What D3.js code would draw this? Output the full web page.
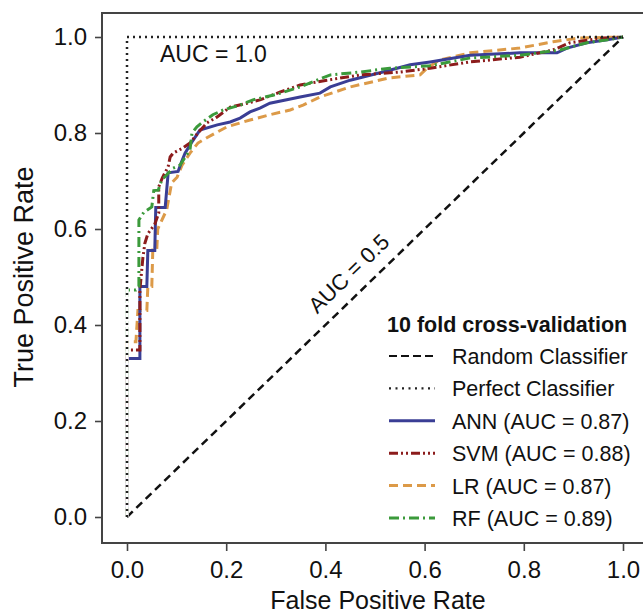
<!DOCTYPE html>
<html><head><meta charset="utf-8">
<script src="https://cdn.jsdelivr.net/npm/d3@7"></script>
<style>body{margin:0;background:#fff}svg{display:block}text{font-family:"Liberation Sans",Arial,Helvetica,sans-serif;fill:#111}</style>
</head><body>
<svg id="c" width="643" height="615"></svg>
<script>
const xTicks = [0, 0.2, 0.4, 0.6, 0.8, 1.0];
const yTicks = [0, 0.2, 0.4, 0.6, 0.8, 1.0];
const annFpr = [0,0,0.026,0.026,0.04,0.042,0.056,0.058,0.077,0.083,0.103,0.11,0.117,0.13,0.147,0.182,0.208,0.228,0.248,0.268,0.288,0.349,0.389,0.41,0.45,0.516,0.571,0.611,0.692,0.792,0.867,0.887,0.927,0.968,1];
const annTpr = [0,0.33,0.33,0.48,0.48,0.555,0.555,0.645,0.645,0.717,0.72,0.74,0.758,0.78,0.806,0.817,0.823,0.831,0.844,0.852,0.862,0.875,0.883,0.896,0.91,0.927,0.942,0.948,0.962,0.967,0.967,0.977,0.988,0.994,1];
const svmFpr = [0,0,0.026,0.026,0.032,0.036,0.042,0.056,0.064,0.064,0.071,0.083,0.087,0.093,0.113,0.127,0.143,0.161,0.181,0.208,0.242,0.268,0.308,0.349,0.403,0.47,0.55,0.611,0.69,0.792,0.859,0.893,0.96,1];
const svmTpr = [0,0.348,0.348,0.473,0.54,0.57,0.59,0.61,0.633,0.688,0.706,0.73,0.75,0.758,0.769,0.779,0.8,0.821,0.833,0.854,0.862,0.869,0.885,0.9,0.91,0.921,0.927,0.935,0.948,0.958,0.973,0.988,0.998,1];
const lrFpr = [0,0,0.018,0.022,0.04,0.042,0.05,0.052,0.06,0.062,0.08,0.09,0.101,0.111,0.127,0.143,0.161,0.182,0.202,0.228,0.248,0.288,0.329,0.355,0.389,0.45,0.53,0.591,0.605,0.63,0.692,0.792,0.859,0.913,1];
const lrTpr = [0,0.365,0.365,0.43,0.43,0.48,0.48,0.556,0.556,0.6,0.64,0.696,0.708,0.733,0.758,0.779,0.79,0.802,0.813,0.821,0.827,0.838,0.848,0.858,0.875,0.896,0.915,0.921,0.935,0.952,0.967,0.977,0.99,0.998,1];
const rfFpr = [0,0,0.018,0.024,0.024,0.034,0.05,0.054,0.063,0.07,0.093,0.107,0.127,0.131,0.141,0.153,0.173,0.194,0.228,0.254,0.3,0.349,0.383,0.41,0.47,0.53,0.611,0.69,0.792,0.873,0.927,0.968,1];
const rfTpr = [0,0.473,0.473,0.48,0.619,0.635,0.646,0.68,0.681,0.702,0.727,0.733,0.765,0.8,0.813,0.823,0.838,0.848,0.858,0.869,0.88,0.896,0.91,0.921,0.927,0.935,0.94,0.956,0.962,0.973,0.988,0.994,1];
const seriesNames = ["ANN (AUC = 0.87)", "SVM (AUC = 0.88)", "LR (AUC = 0.87)", "RF (AUC = 0.89)"];
const legendTitle = "10 fold cross-validation";

const svg = d3.select("#c");
const x = d3.scaleLinear().domain([0,1]).range([127,623]);
const y = d3.scaleLinear().domain([0,1]).range([517,37]);
const FONT = '"Liberation Sans",Arial,Helvetica,sans-serif';

// box
svg.append("path").attr("d","M648,13H102V543H648").attr("fill","none").attr("stroke","#444").attr("stroke-width",2);

// axes
const xa = svg.append("g").attr("transform","translate(0,543)").call(d3.axisBottom(x).tickValues(xTicks).tickFormat(d3.format(".1f")).tickSize(8).tickPadding(9));
const ya = svg.append("g").attr("transform","translate(102,0)").call(d3.axisLeft(y).tickValues(yTicks).tickFormat(d3.format(".1f")).tickSize(7).tickPadding(8));
[xa,ya].forEach(a=>{a.select(".domain").remove();a.selectAll("line").attr("stroke","#444").attr("stroke-width",1.6);a.selectAll("text").style("font-family",FONT).style("font-size","24px").attr("fill","#111");});
xa.selectAll("text").attr("dy","0.75em");

svg.append("text").attr("x",378).attr("y",609).attr("text-anchor","middle").style("font-size","25px").text("False Positive Rate");
svg.append("text").attr("transform","translate(33,277) rotate(-90)").attr("text-anchor","middle").style("font-size","27px").text("True Positive Rate");

const line = d3.line().x(d=>x(d[0])).y(d=>y(d[1]));

const series = [
  {fpr:lrFpr,tpr:lrTpr,color:"#dc9a48",dash:"9,5"},
  {fpr:annFpr,tpr:annTpr,color:"#3a3e95",dash:null},
  {fpr:svmFpr,tpr:svmTpr,color:"#8c1c1c",dash:"9,3,2,3,2,3"},
  {fpr:rfFpr,tpr:rfTpr,color:"#3b9a3b",dash:"10,4,2,4"}
];
series.forEach(s=>{
  const pts = s.fpr.map((f,i)=>[f,s.tpr[i]]);
  const p = svg.append("path").attr("d",line(pts)).attr("fill","none").attr("stroke",s.color).attr("stroke-width",3);
  if(s.dash) p.attr("stroke-dasharray",s.dash);
});

// reference lines
svg.append("path").attr("d",line([[0,0],[1,1]])).attr("fill","none").attr("stroke","#111").attr("stroke-width",2.5).attr("stroke-dasharray","8,5");
svg.append("path").attr("d",line([[0,0],[0,1]])).attr("fill","none").attr("stroke","#fff").attr("stroke-width",3.5);
svg.append("path").attr("d",line([[0,0],[0,1],[1,1]])).attr("fill","none").attr("stroke","#222").attr("stroke-width",2.5).attr("stroke-dasharray","2,4");

svg.append("text").attr("x",160).attr("y",62).style("font-size","23px").text("AUC = 1.0");
svg.append("text").attr("transform","translate(354,279) rotate(-44)").attr("text-anchor","middle").style("font-size","22px").text("AUC = 0.5");

// legend
const lg = svg.append("g");
lg.append("text").attr("x",387).attr("y",332).style("font-size","21.5px").style("font-weight","bold").text(legendTitle);
const legItems = [
  {label:"Random Classifier",color:"#111",dash:"8,4",w:2.2},
  {label:"Perfect Classifier",color:"#222",dash:"2,4.5",w:2.2},
  {label:seriesNames[0],color:"#3a3e95",dash:null,w:3},
  {label:seriesNames[1],color:"#8c1c1c",dash:"9,3,2,3,2,3",w:3},
  {label:seriesNames[2],color:"#dc9a48",dash:"9,5",w:3},
  {label:seriesNames[3],color:"#3b9a3b",dash:"10,4,2,4",w:3}
];
legItems.forEach((d,i)=>{
  const yy = 356 + i*32.4;
  const l = lg.append("line").attr("x1",389).attr("x2",435).attr("y1",yy).attr("y2",yy).attr("stroke",d.color).attr("stroke-width",d.w);
  if(d.dash) l.attr("stroke-dasharray",d.dash);
  lg.append("text").attr("x",452).attr("y",yy+8).style("font-size","21.5px").text(d.label);
});
</script>
</body></html>
